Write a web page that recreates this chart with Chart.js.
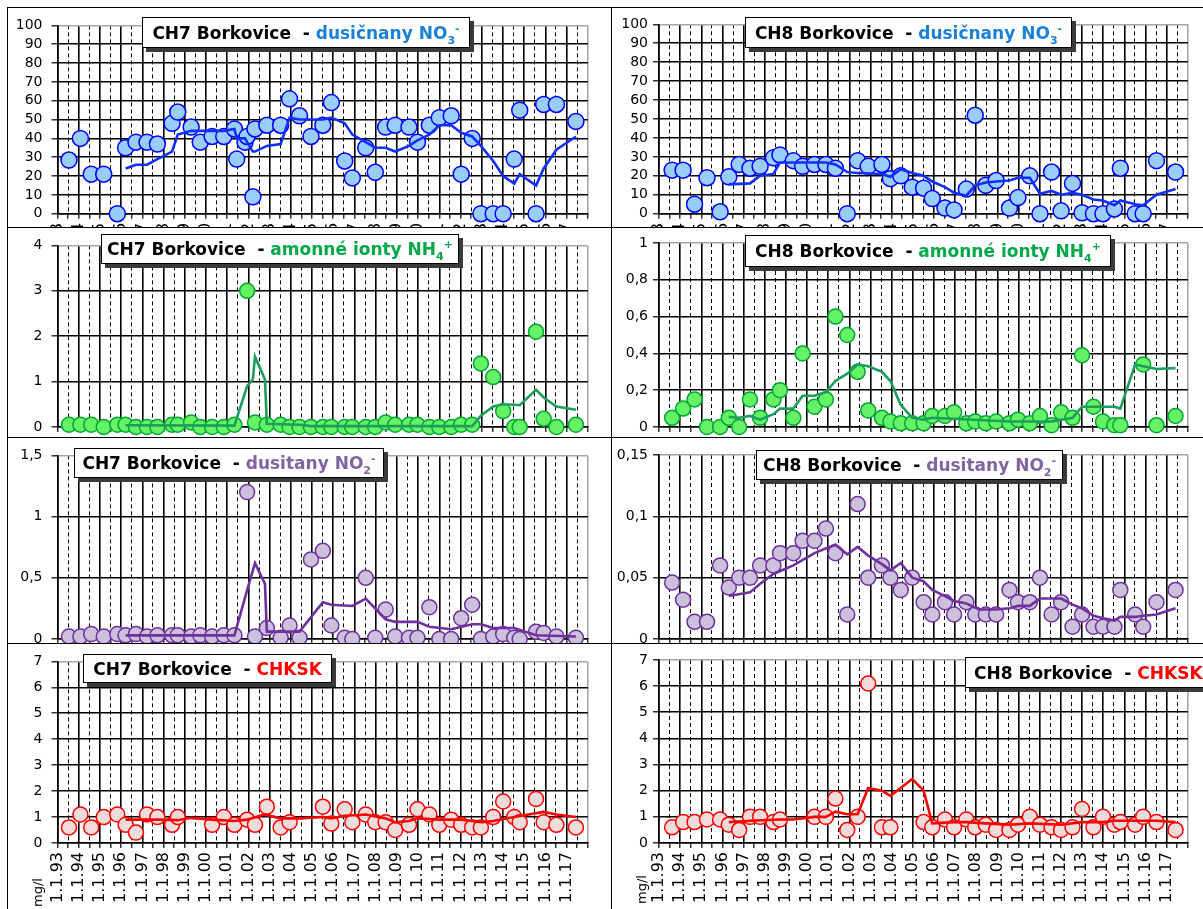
<!DOCTYPE html>
<html><head><meta charset="utf-8">
<script src="https://cdn.jsdelivr.net/npm/chart.js@4.4.0/dist/chart.umd.min.js"></script>
<style>
html,body{margin:0;padding:0;background:#fff;}
body{width:1203px;height:909px;position:relative;overflow:hidden;font-family:'DejaVu Sans',sans-serif;}
.panel{position:absolute;overflow:hidden;background:#fff;border-left:1px solid #000;border-top:1px solid #000;box-sizing:border-box;}
.panel canvas{position:absolute;left:0;top:0;}
.title{position:absolute;background:#fff;border:1px solid #000;box-shadow:4px 4px 0 #3a3a3a;font:bold 17px 'DejaVu Sans',sans-serif;white-space:nowrap;box-sizing:border-box;display:flex;align-items:center;justify-content:center;color:#000;}
.title.leftj{justify-content:flex-start;padding-left:8px;}
.title sub{font-size:11px;vertical-align:-5px;line-height:0;}
.title sup{font-size:11px;vertical-align:7px;line-height:0;}
.mgl{position:absolute;font:13px 'DejaVu Sans',sans-serif;line-height:13px;white-space:nowrap;transform:rotate(-90deg);transform-origin:left top;color:#000;}
</style></head><body>
<script>
// ---- tick labels ----
const yearTickLabels = ['1.1.93','1.1.94','1.1.95','1.1.96','1.1.97','1.1.98','1.1.99','1.1.00','1.1.01','1.1.02','1.1.03','1.1.04','1.1.05','1.1.06','1.1.07','1.1.08','1.1.09','1.1.10','1.1.11','1.1.12','1.1.13','1.1.14','1.1.15','1.1.16','1.1.17'];

// ---- CH7 samples (decimal years) ----
const ch7Dates = [1993.54,1994.08,1994.59,1995.18,1995.82,1996.21,1996.70,1997.22,1997.71,1998.40,1998.67,1999.30,1999.73,2000.29,2000.84,2001.34,2001.45,2001.84,2001.94,2002.21,2002.31,2002.87,2003.52,2003.94,2004.41,2004.95,2005.51,2005.91,2006.54,2006.90,2007.53,2007.98,2008.47,2008.92,2009.57,2009.97,2010.53,2011.00,2011.56,2012.03,2012.55,2012.96,2013.54,2014.01,2014.53,2014.79,2015.56,2015.92,2016.52,2017.44];
const ch7No3 = [28.5,40,21,21,0,35,38,38,37,48,54,46,38,41,41,45,29,38,41,9,45,47,47,61,52,41,47,59,28,19,35,22,46,47,46,38,47,51,52,21,40,0,0,0,29,55,0,58,58,49];
const ch7Nh4 = [0.05,0.05,0.05,0,0.05,0.05,0,0,0,0.05,0.05,0.1,0,0,0,0.05,null,null,3.0,null,0.1,0.05,0.05,0,0,0,0,0,0,0,0,0,0.1,0.05,0.05,0.05,0,0,0,0.05,0.05,1.4,1.1,0.35,0,0,2.1,0.18,0,0.05];
const ch7No2 = [0.02,0.02,0.04,0.02,0.04,0.03,0.04,0.02,0.03,0.03,0.03,0.02,0.03,0.02,0.03,0.03,null,null,1.2,null,0.02,0.09,0.01,0.11,0.01,0.65,0.72,0.11,0.01,0,0.5,0.01,0.24,0.02,0.01,0.01,0.26,0,0,0.17,0.28,0,0.02,0.04,0.01,0,0.06,0.05,0.02,0.01];
const ch7Chksk = [0.6,1.1,0.6,1.0,1.1,0.7,0.4,1.1,1.0,0.7,1.0,null,null,0.7,1.0,0.7,null,null,0.9,null,0.7,1.4,0.6,0.8,null,null,1.4,0.75,1.3,0.8,1.1,0.8,0.8,0.5,0.7,1.3,1.1,0.7,0.9,0.7,0.6,0.6,1.0,1.6,1.0,0.8,1.7,0.8,0.7,0.6];

// ---- CH7 moving-average lines ----
const ch7No3TrendDates = [1996.21,1996.70,1997.22,1997.71,1998.40,1998.67,1999.30,1999.73,2000.29,2000.84,2001.34,2001.45,2001.84,2001.94,2002.21,2002.31,2002.87,2003.52,2003.94,2004.41,2004.95,2005.51,2005.91,2006.54,2006.90,2007.53,2007.98,2008.47,2008.92,2009.57,2009.97,2010.53,2011.00,2011.56,2012.03,2012.55,2012.96,2013.54,2014.01,2014.53,2014.79,2015.56,2015.92,2016.52,2017.44];
const ch7No3Trend = [24,26,26,29,33,42,44,44,44,44,45,40,40,38,33,33,36,37,51,50,50,50,51,48,42,38,35,35,33,36,39,42,47,47,43,41,36,28,20,16,21,15,24,34,41];
const ch7Nh4TrendDates = [1996.21,2001.34,2001.94,2002.21,2002.31,2002.78,2002.87,2004.41,2004.95,2012.55,2012.96,2013.54,2014.01,2014.53,2014.79,2015.56,2015.92,2016.52,2017.44];
const ch7Nh4Trend = [0.04,0.03,0.9,1.05,1.55,1.05,0.07,0.05,0.02,0.02,0.25,0.45,0.5,0.49,0.48,0.82,0.65,0.45,0.38];
const ch7No2TrendDates = [1996.21,2001.34,2001.94,2002.31,2002.78,2002.87,2004.41,2005.51,2005.91,2006.90,2007.53,2008.47,2008.92,2009.97,2010.53,2011.56,2012.55,2012.96,2013.54,2014.53,2015.56,2017.44];
const ch7No2Trend = [0.03,0.03,0.4,0.62,0.45,0.06,0.06,0.3,0.28,0.27,0.33,0.16,0.14,0.14,0.1,0.08,0.12,0.12,0.09,0.09,0.03,0.02];
const ch7ChkskTrendDates = [1996.21,1997.71,1998.67,1999.30,2000.29,2001.34,2001.94,2002.75,2003.52,2004.41,2005.51,2005.91,2006.54,2007.53,2008.47,2008.92,2009.57,2009.97,2011.00,2012.03,2013.00,2013.54,2014.53,2015.20,2015.92,2016.52,2017.44];
const ch7ChkskTrend = [0.9,0.9,0.88,0.97,0.9,0.85,0.9,1.1,0.95,0.95,1.0,0.95,1.05,1.1,0.95,0.8,0.85,0.95,0.9,0.9,0.8,0.85,1.0,1.1,1.2,1.1,1.0];

// ---- CH8 samples ----
const ch8Dates = [1993.62,1994.14,1994.68,1995.27,1995.89,1996.30,1996.79,1997.30,1997.78,1998.41,1998.72,1999.35,1999.79,2000.35,2000.89,2001.34,2001.90,2002.39,2002.89,2003.54,2003.94,2004.43,2004.97,2005.51,2005.92,2006.52,2006.95,2007.53,2007.95,2008.45,2008.94,2009.57,2009.97,2010.53,2011.01,2011.56,2012.01,2012.55,2013.00,2013.54,2013.99,2014.53,2014.81,2015.51,2015.89,2016.52,2017.42];
const ch8No3 = [23,23,5,19,1,19.5,26,24,25,29.5,31,28,25,26,26,24,0,28,25,26,18.5,20,14,13.5,8,3,2,13,52,15,17.5,3,8.5,20,0,22,1.5,16,0.5,0,0,2.5,24,0,0,28,22];
const ch8Nh4 = [0.05,0.1,0.15,0,0,0.05,0,0.15,0.05,0.15,0.2,0.05,0.4,0.11,0.15,0.6,0.5,0.3,0.09,0.05,0.03,0.02,0.02,0.02,0.06,0.06,0.08,0.02,0.03,0.02,0.03,0.02,0.04,0.02,0.06,0.01,0.08,0.05,0.39,0.11,0.03,0.01,0.01,null,0.34,0.01,0.06];
const ch8No2 = [0.046,0.032,0.014,0.014,0.06,0.042,0.05,0.05,0.06,0.06,0.07,0.07,0.08,0.08,0.09,0.07,0.02,0.11,0.05,0.06,0.05,0.04,0.05,0.03,0.02,0.03,0.02,0.03,0.02,0.02,0.02,0.04,0.03,0.03,0.05,0.02,0.03,0.01,0.02,0.01,0.01,0.01,0.04,0.02,0.01,0.03,0.04];
const ch8Chksk = [0.6,0.8,0.8,0.9,0.9,0.7,0.5,1.0,1.0,0.8,0.9,null,null,1.0,1.0,1.7,0.5,1.0,6.1,0.6,0.6,null,null,0.8,0.6,0.9,0.6,0.9,0.6,0.7,0.5,0.5,0.7,1.0,0.7,0.6,0.5,0.6,1.3,0.6,1.0,0.7,0.8,0.7,1.0,0.8,0.5];

// ---- CH8 moving-average lines ----
const ch8No3TrendDates = [1996.30,1997.30,1997.78,1998.41,1998.72,1999.35,2000.89,2001.34,2001.90,2002.39,2003.54,2003.94,2004.43,2004.97,2005.51,2005.92,2006.52,2006.95,2007.53,2007.95,2008.45,2008.94,2009.57,2009.97,2010.53,2011.01,2011.56,2012.01,2012.55,2013.00,2013.54,2013.99,2014.53,2014.81,2015.51,2015.89,2016.52,2017.42];
const ch8No3Trend = [15.5,16,20,21,27,27,27,26,22,21.5,21,19.5,23.5,21.5,20,17,14,11,9.5,15,16.5,17,17.5,19,19,10.5,12,10,11,10,7.5,7,4.5,7,5,4.5,10,13];
const ch8Nh4TrendDates = [1996.30,1996.79,1997.30,1997.78,1998.41,1998.72,1999.35,1999.79,2000.35,2000.89,2001.34,2001.90,2002.39,2002.89,2003.54,2003.94,2004.43,2004.97,2005.51,2005.92,2009.57,2011.56,2012.55,2013.00,2013.54,2014.53,2014.81,2015.51,2015.89,2016.52,2017.42];
const ch8Nh4Trend = [0.055,0.05,0.06,0.04,0.07,0.1,0.1,0.17,0.17,0.19,0.25,0.29,0.34,0.33,0.3,0.25,0.12,0.05,0.04,0.05,0.03,0.03,0.05,0.11,0.11,0.11,0.1,0.34,0.33,0.315,0.32];
const ch8No2TrendDates = [1996.30,1997.30,1997.78,1998.41,1999.35,2000.35,2001.34,2001.90,2002.39,2002.89,2003.54,2003.94,2004.43,2004.97,2005.51,2005.92,2006.52,2006.95,2007.53,2008.13,2008.94,2009.57,2009.97,2010.53,2011.01,2011.56,2012.01,2012.55,2013.00,2013.54,2013.99,2014.53,2014.81,2015.51,2015.89,2016.52,2017.42];
const ch8No2Trend = [0.035,0.038,0.045,0.053,0.06,0.07,0.077,0.069,0.075,0.068,0.061,0.056,0.062,0.05,0.047,0.04,0.035,0.031,0.029,0.024,0.024,0.025,0.027,0.027,0.033,0.033,0.033,0.028,0.025,0.019,0.017,0.015,0.018,0.018,0.019,0.02,0.025];
const ch8ChkskTrendDates = [1996.30,1997.30,1998.72,1999.35,2000.35,2000.89,2001.34,2001.90,2002.39,2002.89,2003.54,2003.94,2004.97,2005.51,2005.92,2006.95,2007.53,2008.45,2009.57,2010.53,2012.01,2013.00,2013.99,2014.53,2015.89,2016.52,2017.42];
const ch8ChkskTrend = [0.8,0.85,0.9,0.9,1.0,1.0,1.2,1.1,1.1,2.1,2.0,1.8,2.45,2.0,0.75,0.8,0.8,0.75,0.7,0.75,0.7,0.8,0.8,0.85,0.85,0.85,0.8];

// ---- styles ----
const STY = {
  no3:{fill:'#99ccff', stroke:'#0000ff', line:'#1030ff', r:8},
  nh4:{fill:'#66f266', stroke:'#00a830', line:'#1c9e5c', r:7.5},
  no2:{fill:'#ccc0da', stroke:'#7030a0', line:'#7030a0', r:7.5},
  chk:{fill:'#f2dcdb', stroke:'#ff0000', line:'#ff0000', r:7.5}
};
const CH = 280;
const COLL = {left:7, w:604, cw:603, plotL:49.5, padR:21, tickPad:9};
const COLR = {left:611, w:600, cw:599, plotL:47, padR:19.5, tickPad:5};
const ROWS = [
  {top:7, h:220, plotT:16.3, plotB:205.7},
  {top:227, h:210, plotT:15, plotB:199},
  {top:437, h:206, plotT:17, plotB:201},
  {top:643, h:270, plotT:16, plotB:199}
];
const panels = [
  {col:COLL,row:ROWS[0],dates:ch7Dates,vals:ch7No3,tD:ch7No3TrendDates,tV:ch7No3Trend,sty:STY.no3,yMax:100,yStep:10},
  {col:COLR,row:ROWS[0],dates:ch8Dates,vals:ch8No3,tD:ch8No3TrendDates,tV:ch8No3Trend,sty:STY.no3,yMax:100,yStep:10},
  {col:COLL,row:ROWS[1],dates:ch7Dates,vals:ch7Nh4,tD:ch7Nh4TrendDates,tV:ch7Nh4Trend,sty:STY.nh4,yMax:4,yStep:1},
  {col:COLR,row:ROWS[1],dates:ch8Dates,vals:ch8Nh4,tD:ch8Nh4TrendDates,tV:ch8Nh4Trend,sty:STY.nh4,yMax:1,yStep:0.2},
  {col:COLL,row:ROWS[2],dates:ch7Dates,vals:ch7No2,tD:ch7No2TrendDates,tV:ch7No2Trend,sty:STY.no2,yMax:1.5,yStep:0.5},
  {col:COLR,row:ROWS[2],dates:ch8Dates,vals:ch8No2,tD:ch8No2TrendDates,tV:ch8No2Trend,sty:STY.no2,yMax:0.15,yStep:0.05},
  {col:COLL,row:ROWS[3],dates:ch7Dates,vals:ch7Chksk,tD:ch7ChkskTrendDates,tV:ch7ChkskTrend,sty:STY.chk,yMax:7,yStep:1},
  {col:COLR,row:ROWS[3],dates:ch8Dates,vals:ch8Chksk,tD:ch8ChkskTrendDates,tV:ch8ChkskTrend,sty:STY.chk,yMax:7,yStep:1}
];

const firstYear = 1993, lastYear = 1993 + yearTickLabels.length; // 2018
const halfSteps = [];
for (let v = firstYear; v <= lastYear; v += 0.5) halfSteps.push(v);
const midYears = halfSteps.filter(v => !Number.isInteger(v));

function fmt(v){ return String(Number(v.toFixed(4))).replace('.', ','); }

function build(p){
  const c = p.col, r = p.row, s = p.sty;
  const div = document.createElement('div');
  div.className = 'panel';
  Object.assign(div.style, {left:c.left+'px', top:r.top+'px', width:c.w+'px', height:r.h+'px'});
  const cv = document.createElement('canvas');
  cv.width = c.cw; cv.height = CH;
  cv.style.width = c.cw+'px'; cv.style.height = CH+'px';
  div.appendChild(cv);
  document.body.appendChild(div);
  const pts = [];
  p.dates.forEach((d,i) => { if (p.vals[i] !== null) pts.push({x:d, y:p.vals[i]}); });
  const trend = p.tD.map((d,i) => ({x:d, y:p.tV[i]}));
  const nSteps = Math.round(p.yMax / p.yStep);
  const yTicks = [];
  for (let i = 0; i <= nSteps; i++) yTicks.push(Number((i * p.yStep).toFixed(6)));
  new Chart(cv, {
    type:'scatter',
    data:{datasets:[
      {type:'line', data:trend, borderColor:s.line, borderWidth:2.6, pointRadius:0, fill:false, tension:0, clip:false, order:0},
      {type:'scatter', data:pts, backgroundColor:s.fill, borderColor:s.stroke, borderWidth:1.5, pointRadius:s.r, pointHoverRadius:s.r, clip:false, order:1}
    ]},
    options:{
      responsive:false, animation:false, devicePixelRatio:1, events:[],
      layout:{padding:{top:r.plotT, right:c.padR, left:0, bottom:0}},
      plugins:{legend:{display:false}, tooltip:{enabled:false}},
      scales:{
        x:{type:'linear', min:firstYear, max:lastYear, position:'bottom',
          afterBuildTicks: sc => { sc.ticks = halfSteps.map(v => ({value:v})); },
          afterFit: sc => { sc.height = CH - r.plotB; },
          ticks:{autoSkip:false, minRotation:90, maxRotation:90, padding:4, color:'#000',
            font:{family:'DejaVu Sans', size:16},
            callback: v => (Number.isInteger(v) && v < lastYear) ? yearTickLabels[v - firstYear] : ''},
          grid:{color: ctx => (ctx.tick && Number.isInteger(ctx.tick.value)) ? (ctx.tick.value === lastYear ? '#a6a6a6' : '#000') : 'rgba(0,0,0,0)',
            lineWidth:1.6, tickColor:'#000', tickLength:5, tickWidth:1.2},
          border:{display:true, color:'#000', width:1.6}
        },
        x2:{type:'linear', min:firstYear, max:lastYear, position:'bottom',
          afterBuildTicks: sc => { sc.ticks = midYears.map(v => ({value:v})); },
          afterFit: sc => { sc.height = 0; },
          ticks:{display:false},
          grid:{color:'#000', lineWidth:1, drawTicks:false},
          border:{display:false, dash:[4,3]}
        },
        y:{type:'linear', min:0, max:p.yMax, position:'left',
          afterBuildTicks: sc => { sc.ticks = yTicks.map(v => ({value:v})); },
          afterFit: sc => { sc.width = c.plotL; },
          ticks:{autoSkip:false, padding:c.tickPad, color:'#000', font:{family:'DejaVu Sans', size:14},
            callback: v => fmt(v)},
          grid:{color: ctx => (ctx.tick && Math.abs(ctx.tick.value - p.yMax) < 1e-9) ? '#a6a6a6' : '#000',
            lineWidth:1.6, tickLength:6, tickColor:'#000', tickWidth:1.2},
          border:{color:'#000', width:1.6}
        }
      }
    }
  });
}
panels.forEach(build);

// ---- titles ----
const titles = [
  {l:142,t:17,w:328,h:31,name:'CH7',txt:'dusičnany NO<sub>3</sub><sup>-</sup>',col:'#1a80d8'},
  {l:745,t:17,w:327,h:31,name:'CH8',txt:'dusičnany NO<sub>3</sub><sup>-</sup>',col:'#1a80d8'},
  {l:101,t:234,w:358,h:30,name:'CH7',txt:'amonné ionty NH<sub>4</sub><sup>+</sup>',col:'#00a84a'},
  {l:745,t:235,w:366,h:32,name:'CH8',txt:'amonné ionty NH<sub>4</sub><sup>+</sup>',col:'#00a84a'},
  {l:74,t:448,w:310,h:30,name:'CH7',txt:'dusitany NO<sub>2</sub><sup>-</sup>',col:'#8064a2'},
  {l:756,t:450,w:307,h:30,name:'CH8',txt:'dusitany NO<sub>2</sub><sup>-</sup>',col:'#8064a2'},
  {l:83,t:654,w:249,h:29,name:'CH7',txt:'CHKSK',col:'#ff0000'},
  {l:965,t:657,w:256,h:31,name:'CH8',txt:'CHKSK',col:'#ff0000',left:true}
];
titles.forEach(tt => {
  const d = document.createElement('div');
  d.className = 'title' + (tt.left ? ' leftj' : '');
  Object.assign(d.style, {left:tt.l+'px', top:tt.t+'px', width:tt.w+'px', height:tt.h+'px'});
  d.innerHTML = '<span>' + tt.name + ' Borkovice&nbsp; -&nbsp;<span style="color:' + tt.col + '">' + tt.txt + '</span></span>';
  document.body.appendChild(d);
});

// ---- axis unit labels ----
[{l:31,t:907},{l:635,t:904}].forEach(m => {
  const d = document.createElement('div');
  d.className = 'mgl';
  d.textContent = 'mg/l';
  Object.assign(d.style, {left:m.l+'px', top:m.t+'px'});
  document.body.appendChild(d);
});
</script>
</body></html>
